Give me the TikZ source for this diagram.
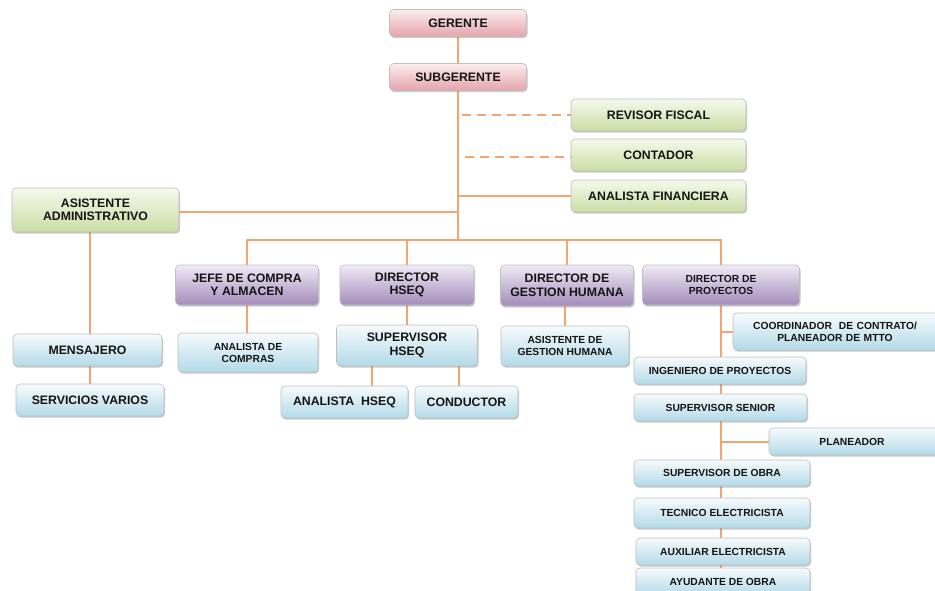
\documentclass[tikz,border=0pt]{standalone}
\usepackage{fontspec}
\setmainfont{Liberation Sans}
\usetikzlibrary{shadows,backgrounds}
\definecolor{lnc}{HTML}{F5A470}
\definecolor{txc}{HTML}{151515}
\definecolor{pkT}{HTML}{FCEEEE}
\definecolor{pkB}{HTML}{E5A4AB}
\definecolor{grT}{HTML}{F5F9EC}
\definecolor{grB}{HTML}{CADDA4}
\definecolor{puT}{HTML}{F0EAF5}
\definecolor{puB}{HTML}{A38CBA}
\definecolor{blT}{HTML}{F6FBFD}
\definecolor{blB}{HTML}{B3DAE8}
\tikzset{
  x=1pt,y=-1pt,
  box/.style={rounded corners=4pt, draw=black!25, line width=0.6pt, align=center, inner sep=1pt,
    text=txc, font=\bfseries\fontsize{12.3}{13.5}\selectfont,
    drop shadow={shadow xshift=1pt,shadow yshift=-1.6pt,opacity=0.35,fill=black!60}},
  bw/.style 2 args={minimum width=#1pt, minimum height=#2pt},
  pinkbox/.style={box, top color=pkT, bottom color=pkB},
  greenbox/.style={box, top color=grT, bottom color=grB},
  purplebox/.style={box, top color=puT, bottom color=puB},
  bluebox/.style={box, top color=blT, bottom color=blB},
  small/.style={font=\bfseries\fontsize{10.3}{12}\selectfont},
  conn/.style={draw=lnc, line width=2pt},
  dconn/.style={conn, dash pattern=on 9pt off 6pt},
}
\begin{document}
\begin{tikzpicture}
\useasboundingbox (0,0) rectangle (935,590);
\clip (0,0) rectangle (935,590);
% nodes
\node[pinkbox, bw={137}{27}] (ger) at (458,23) {GERENTE};
\node[pinkbox, bw={137}{27}] (sub) at (458,77) {SUBGERENTE};
\node[greenbox, bw={175}{32}] (rf) at (658.5,115) {REVISOR FISCAL};
\node[greenbox, bw={175}{32}] (cont) at (658.5,155) {CONTADOR};
\node[greenbox, bw={175}{32}] (af) at (658.5,196) {ANALISTA FINANCIERA};
\node[greenbox, bw={167}{44}] (asis) at (95.5,210) {ASISTENTE\\ADMINISTRATIVO};
\node[purplebox, bw={143}{40}] (jefe) at (247,285) {JEFE DE COMPRA\\Y ALMACEN};
\node[purplebox, bw={134}{40}] (dhseq) at (407,285) {DIRECTOR\\HSEQ};
\node[purplebox, bw={133}{41}] (dgh) at (567,285.5) {DIRECTOR DE\\GESTION HUMANA};
\node[purplebox, small, bw={157}{40}] (dproy) at (721,285) {DIRECTOR DE\\PROYECTOS};
\node[bluebox, bw={149}{32}] (mens) at (87.5,350) {MENSAJERO};
\node[bluebox, bw={148}{32}] (serv) at (90,400) {SERVICIOS VARIOS};
\node[bluebox, small, bw={140}{39}] (acomp) at (248,352.5) {ANALISTA DE\\COMPRAS};
\node[bluebox, bw={141}{41}] (shseq) at (407,345.5) {SUPERVISOR\\HSEQ};
\node[bluebox, bw={127}{32}] (ahseq) at (344.5,402) {ANALISTA~ HSEQ};
\node[bluebox, bw={103}{32}] (cond) at (466.5,402) {CONDUCTOR};
\node[bluebox, small, bw={128}{40}] (agh) at (565,346) {ASISTENTE DE\\GESTION HUMANA};
\node[bluebox, small, bw={210}{37}, text width=200pt] (coord) at (838,331.5) {\hspace*{-6pt}COORDINADOR~ DE CONTRATO/\\\hspace*{-6pt}PLANEADOR DE MTTO};
\node[bluebox, small, bw={172}{27}] (ing) at (720,370.5) {INGENIERO DE PROYECTOS};
\node[bluebox, small, bw={173}{27}] (ssen) at (720.5,407.5) {SUPERVISOR SENIOR};
\node[bluebox, small, bw={174}{27}] (plan) at (856,441.5) {\hspace*{-8pt}PLANEADOR};
\node[bluebox, small, bw={176}{26}] (sobra) at (722,473) {SUPERVISOR DE OBRA};
\node[bluebox, small, bw={176}{30}] (tec) at (722,513) {TECNICO ELECTRICISTA};
\node[bluebox, small, bw={174}{27}] (aux) at (723,551.5) {AUXILIAR ELECTRICISTA};
\node[bluebox, small, bw={174}{27}] (ayu) at (723,581.5) {AYUDANTE DE OBRA};
\coordinate (bus) at (458,240);
\coordinate (tr1) at (462,115);
\coordinate (tr2) at (465,157);
\coordinate (trA) at (458,196);
\coordinate (trB) at (458,212);
% connectors
\begin{pgfonlayer}{background}
\draw[conn] (ger.south) -- (sub.north);
\draw[conn] (sub.south) -- (bus);
\draw[dconn] (tr1) -- (rf.west);
\draw[dconn] (tr2) -- (cont.west |- tr2);
\draw[conn] (trA) -- (af.west);
\draw[conn] (asis.east |- trB) -- (trB);
\draw[conn] (jefe.north) -- (jefe.north |- bus) -- (dproy.north |- bus) -- (dproy.north);
\draw[conn] (dhseq.north) -- (dhseq.north |- bus);
\draw[conn] (dgh.north) -- (dgh.north |- bus);
\draw[conn] (asis.south -| serv.north) -- (mens.north -| serv.north);
\draw[conn] (mens.south -| serv.north) -- (serv.north);
\draw[conn] (jefe.south) -- (jefe.south |- acomp.north);
\draw[conn] (dhseq.south) -- (dhseq.south |- shseq.north);
\draw[conn] ([xshift=-35pt]shseq.south) -- ([xshift=-35pt]shseq.south |- ahseq.north);
\draw[conn] ([xshift=52pt]shseq.south) -- ([xshift=52pt]shseq.south |- cond.north);
\draw[conn] (dgh.south -| agh.north) -- (agh.north);
\draw[conn] (dproy.south) -- (dproy.south |- ayu.north);
\draw[conn] (dproy.south |- coord.west) -- (coord.west);
\draw[conn] (dproy.south |- plan.west) -- (plan.west);
\end{pgfonlayer}
\end{tikzpicture}
\end{document}
